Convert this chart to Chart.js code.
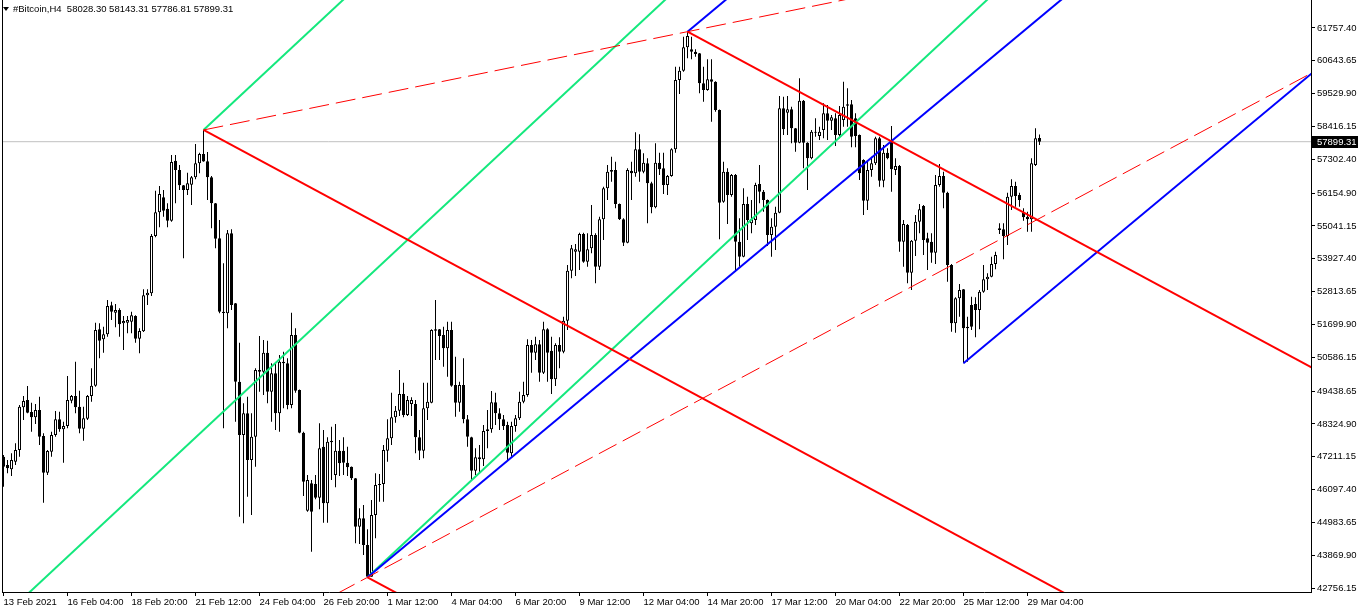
<!DOCTYPE html>
<html>
<head>
<meta charset="utf-8">
<script src="https://cdn.jsdelivr.net/npm/chart.js@4.4.1/dist/chart.umd.min.js"></script>
<style>
  html, body { margin: 0; padding: 0; background: #fff; }
  #wrap { width: 1362px; height: 612px; }
</style>
</head>
<body>
<div id="wrap"><canvas id="chart" width="1362" height="612"></canvas></div>
<script>
// #Bitcoin H4 candles, 13 Feb 2021 .. 29 Mar 2021
const symbolName = '#Bitcoin,H4';

const opens = [
  47213,46930,46783,47043,47439,48887,49136,48728,48547,48796,47914,46670,47383,47948,48480,48140,48253,49113,49271,48909,
  48163,48502,49271,49622,51533,51194,51364,52348,52099,52189,51737,51760,51793,51986,51217,51465,52687,52755,54700,55503,
  56012,55628,55220,57256,56939,56419,56261,56442,56691,57166,57482,57234,56691,55808,54621,52133,52076,54790,52415,49757,
  47947,48683,47099,47891,50153,50096,50741,49418,50040,48683,50436,50379,48965,51340,49474,48027,45380,46307,46285,45821,
  47552,45629,47699,46590,47416,47416,47009,46873,46477,44837,45120,44215,43141,45233,46251,46285,47416,47834,48547,48773,
  49339,48626,48999,48999,47868,47416,48852,49045,51487,51533,51340,50888,51510,49644,49045,49644,48479,47868,46737,47122,
  47122,48083,48140,49056,48683,48479,48287,47325,48253,48513,49078,49305,51001,50741,51024,50062,51533,50809,49836,51001,
  50775,51827,53523,54168,54168,54767,53829,54281,54733,53659,55265,56317,56882,56939,55785,55265,54473,56917,56826,57641,
  56882,57166,56487,55673,57188,56996,56431,56736,57641,59993,60310,61102,61034,60955,60898,59880,59654,60016,59937,58975,
  55865,56883,56091,56770,54508,53999,55786,55130,55243,56464,56204,55922,54734,55017,55492,59032,58885,58998,58353,57867,
  59292,57867,57335,58206,58093,58297,58862,58613,58693,58127,58636,59123,59168,58693,58127,57279,55899,56940,57166,58014,
  56578,57528,57901,56940,57075,54508,55074,53456,54542,55187,55718,54621,54508,54135,56431,56736,56171,53716,51737,52585,
  52891,51567,52359,52393,52189,52812,53230,53320,53750,54904,54927,54700,56035,56397,56091,55492,55356,55266,57109,58028.30
];
const highs = [
  47269,47100,47326,47665,48966,49271,49611,49045,49000,49249,48005,47439,48061,48762,48740,48400,49950,49305,50436,49452,
  48909,49305,50210,51760,51737,51624,52529,52472,52393,52246,51986,51986,52133,52008,51567,52891,52891,54768,56238,56397,
  56261,55808,57448,57448,57109,56431,56849,56736,57822,57528,58297,57550,56736,55820,55243,53772,54903,54926,52430,51080,
  49022,49248,48683,50209,51307,51171,51148,50379,50379,50662,50775,50549,52098,51567,49490,48061,46590,46421,46590,48343,
  48117,47868,48230,48321,47778,47868,47552,46880,46490,45459,45572,44747,45742,46647,46624,47608,48479,49384,48931,50153,
  49723,49271,49225,49135,48117,49723,49723,51533,52528,51545,51623,51793,51793,50605,49757,50549,48626,47891,47495,47608,
  48287,48796,49440,49384,48852,48626,48400,48400,48626,49418,49757,51193,51171,51284,51171,51793,51567,51284,51058,51261,
  51962,53716,54394,54428,54813,54813,54790,55751,54790,55355,56373,57109,57391,57222,55800,55299,56995,57222,58218,58154,
  57506,57336,56544,57844,57528,57528,56770,57675,60446,60446,61463,61633,61463,61034,60910,60446,60694,60694,59950,58990,
  57222,56996,56804,56804,55300,56317,56035,55922,56510,57109,56261,55935,55300,55695,59450,59428,59450,59088,58365,60050,
  59315,57880,58297,58693,58410,59201,59145,58806,58862,59111,59937,59711,59315,58862,58140,57302,57279,57392,58071,58071,
  57788,57675,58433,57336,57109,55243,55107,54565,55413,55786,55752,54813,54791,56770,57143,56883,56205,53750,52619,53072,
  52900,51963,52642,52619,52868,53716,53434,53999,54169,55130,55130,56171,56623,56544,56171,55639,55526,57336,58353,58143.31
];
const lows = [
  46195,46647,46557,46930,47213,48457,48683,48061,48321,47609,45652,46591,47213,47891,48061,47009,48174,49022,48683,48005,
  47756,48457,49079,49588,50549,50742,51284,51850,51601,51284,50832,51398,51398,51081,50719,51443,52359,52664,54655,54994,
  55356,54994,55186,55808,56261,53942,56091,55752,56623,56826,57222,55922,54960,54282,52076,48174,51567,52189,48400,45176,
  44950,45855,45233,46873,49418,49305,49022,48400,48117,48061,48852,48818,48852,49384,48004,45878,45346,43989,45765,45425,
  44973,44973,46421,46172,46556,46590,46556,46421,44272,44250,43876,43118,43135,44441,45685,45685,47043,47608,48366,48592,
  48547,48592,48592,47325,47099,47156,48456,49022,50492,50492,50266,49927,49587,48569,48739,48343,47552,46421,46590,46669,
  46896,47495,48027,48287,48117,48117,47099,47212,48061,48456,49022,49248,50062,50492,49757,50017,49757,49339,49610,50209,
  50718,51510,53263,53342,53546,53795,53659,54111,53093,53546,54564,55921,56543,55638,55242,54360,54451,55922,56713,56542,
  56826,55130,55469,55639,56770,56125,56091,56713,57528,59518,60276,60728,60694,60785,59541,59258,59631,58579,58919,54587,
  55831,55107,56035,53490,53660,53976,54564,54791,55073,55808,55526,54361,53999,54225,55469,58127,58127,57844,57562,57844,
  56996,56261,57301,58070,57957,58014,57957,58297,57754,58014,58410,58410,57709,57709,56600,55413,55582,56713,57109,56374,
  56352,57302,56205,56770,54169,53660,53094,52868,54022,54791,54056,53547,53796,53750,56374,55639,53151,51454,51420,51963,
  50380,50436,51511,51262,51534,52778,52868,53298,53569,54768,53909,54395,55582,55696,55696,55221,54847,54847,57075,57786.81
];
const closes = [
  46874,46817,47100,47439,48909,49102,48706,48547,48796,47891,46670,47405,47948,48480,48140,48253,49136,49271,48887,48163,
  48514,49271,49622,51511,51149,51364,52325,52133,52189,51703,51816,51850,52008,51217,51477,52687,52777,54700,55503,56125,
  55560,55220,57211,56939,56419,56261,56487,56691,57166,57482,57230,56691,55808,54610,52133,52090,54790,52358,49757,47947,
  48683,47099,47891,50153,50096,50741,49418,50040,48683,50436,50379,48965,51340,49452,48027,46364,46421,45346,45821,47495,
  45629,47721,47755,47416,46986,47009,46850,46477,44837,45120,44215,43141,45233,46251,46285,47438,47834,48547,48773,49339,
  48626,49135,49135,47868,47416,48852,49078,51510,51533,51307,50888,51510,49621,49045,49644,48479,47891,46737,47190,47190,
  48083,48140,49056,48683,48479,48253,47348,48253,48513,49078,49305,51001,50741,51024,50062,51533,50741,49836,51001,50775,
  51827,53523,54281,54247,54767,53829,54247,54733,53659,55265,56317,56882,56939,55785,55265,54473,56939,56826,57641,56882,
  57188,56487,55673,57188,56962,56431,56736,57641,59993,60310,61102,61486,60955,60875,59880,59654,60016,59937,58975,55831,
  56883,56091,56770,54508,53999,55786,55243,55266,56431,56204,55922,54734,55017,55492,59032,58319,58998,58353,57867,59292,
  57867,57335,58240,58240,58240,58862,58613,58726,58127,58806,59089,59168,58071,58093,56827,55899,56940,57166,58014,56578,
  57528,57336,56962,57075,54508,55107,53456,54542,55187,55605,54565,54474,54135,56431,56736,56171,53716,51737,52585,52868,
  51567,51624,51624,52189,52812,53230,53320,53750,54056,54960,54700,56035,56397,56058,55922,55334,55266,57166,58014,57899.31
];

// time axis labels every 16 bars
const dateTickBars = [0,16,32,48,64,80,96,112,128,144,160,176,192,208,224,240,256];
const dateTickLabels = ['13 Feb 2021','16 Feb 04:00','18 Feb 20:00','21 Feb 12:00','24 Feb 04:00','26 Feb 20:00',
  '1 Mar 12:00','4 Mar 04:00','6 Mar 20:00','9 Mar 12:00','12 Mar 04:00','14 Mar 20:00','17 Mar 12:00',
  '20 Mar 04:00','22 Mar 20:00','25 Mar 12:00','29 Mar 04:00'];

const priceTicks = [42756.15,43869.90,44983.65,46097.40,47211.15,48324.90,49438.65,50586.15,51699.90,
  52813.65,53927.40,55041.15,56154.90,57302.40,58416.15,59529.90,60643.65,61757.40];
const priceMin = 42620.8;
const priceMax = 62707.4;

// drawing objects: pivot bars (high, low, high, low) and slopes in price per bar
const pivotBars = [50, 91, 171, 240];
const pivotPrices = [highs[50], lows[91], highs[171], lows[240]];
const greenSlope = 126.5;
const blueSlope = 113;
const redSlope = -73;
const lowerDashSlope = 72.5;

const FONT = 'Liberation Sans';
Chart.defaults.font.family = FONT;
Chart.defaults.font.size = 9.5;
Chart.defaults.color = '#000';

const GREEN = 'rgb(20,232,125)';
const BLUE = 'rgb(0,0,255)';
const RED = 'rgb(255,0,0)';

function ray(k, slope, toBar) {
  const b = pivotBars[k], p = pivotPrices[k];
  return [{x: b, y: p}, {x: toBar, y: p + (toBar - b) * slope}];
}

function lineSet(label, pts, color, width, dash, order) {
  return {
    type: 'line', label: label, data: pts,
    borderColor: color, borderWidth: width, borderDash: dash || [],
    pointRadius: 0, fill: false, tension: 0, clip: 0, order: order
  };
}

const wickData = highs.map((h, i) => ({x: i, y: [lows[i], h]}));
const bodyData = opens.map((o, i) => ({x: i, y: [o, closes[i]]}));
const bodyColors = opens.map((o, i) => closes[i] >= o ? '#ffffff' : '#000000');

const lastIdx = closes.length - 1;
const lastClose = closes[lastIdx];

// midline of the green channel (between the two first pivots)
const midBar = (pivotBars[0] + pivotBars[1]) / 2;
const midPrice = (pivotPrices[0] + pivotPrices[1]) / 2;
const upperDashSlope = (pivotPrices[2] - pivotPrices[0]) / (pivotBars[2] - pivotBars[0]);

const datasets = [
  lineSet('bid', [{x: -5, y: lastClose}, {x: 340, y: lastClose}], 'rgb(192,192,192)', 1, null, 10),
  {
    type: 'bar', label: 'wicks', data: wickData,
    backgroundColor: '#000', borderWidth: 0, barThickness: 1,
    grouped: false, inflateAmount: 0, minBarLength: 1, order: 6
  },
  {
    type: 'bar', label: 'bodies', data: bodyData,
    backgroundColor: bodyColors, borderColor: '#000', borderWidth: 1, borderSkipped: false,
    barThickness: 3, grouped: false, inflateAmount: 0, minBarLength: 1, order: 5
  },
  // green channel
  lineSet('g1', ray(0, greenSlope, 400), GREEN, 2, null, 3),
  lineSet('g2', [{x: -100, y: midPrice + (-100 - midBar) * greenSlope}, {x: 400, y: midPrice + (400 - midBar) * greenSlope}], GREEN, 2, null, 3),
  lineSet('g3', ray(1, greenSlope, 400), GREEN, 2, null, 3),
  // blue channel
  lineSet('b1', ray(1, blueSlope, 400), BLUE, 2, null, 2),
  lineSet('b2', ray(2, blueSlope, 400), BLUE, 2, null, 2),
  lineSet('b3', ray(3, blueSlope, 400), BLUE, 2, null, 2),
  // red descending lines
  lineSet('r1', ray(0, redSlope, 400), RED, 2, null, 1),
  lineSet('r2', ray(2, redSlope, 400), RED, 2, null, 1),
  lineSet('r3', ray(1, redSlope, 400), RED, 2, null, 1),
  // dashed red
  lineSet('d1', ray(0, upperDashSlope, 400), RED, 1, [20, 7], 0),
  lineSet('d2', [{x: 0, y: pivotPrices[1] + (0 - pivotBars[1]) * lowerDashSlope}, {x: 400, y: pivotPrices[1] + (400 - pivotBars[1]) * lowerDashSlope}], RED, 1, [20, 7], 0)
];

const overlay = {
  id: 'overlay',
  afterDraw(chart) {
    const {ctx, chartArea: a, scales} = chart;
    ctx.save();
    ctx.strokeStyle = '#000';
    ctx.lineWidth = 1;
    ctx.beginPath();
    ctx.moveTo(a.left + 0.5, a.top);
    ctx.lineTo(a.left + 0.5, a.bottom);
    ctx.stroke();

    // header
    ctx.fillStyle = '#000';
    ctx.beginPath();
    ctx.moveTo(3, 7); ctx.lineTo(9, 7); ctx.lineTo(6, 11); ctx.closePath();
    ctx.fill();
    ctx.font = '9.5px "' + FONT + '"';
    ctx.textBaseline = 'alphabetic';
    ctx.textAlign = 'left';
    const hdr = symbolName + '  ' + opens[lastIdx].toFixed(2) + ' ' + highs[lastIdx].toFixed(2) + ' ' +
      lows[lastIdx].toFixed(2) + ' ' + lastClose.toFixed(2);
    ctx.fillText(hdr, 13, 12);

    // current price tag on the axis
    const py = Math.round(scales.y.getPixelForValue(lastClose));
    ctx.fillStyle = '#000';
    ctx.fillRect(a.right + 1, py - 6, 46, 12);
    ctx.fillStyle = '#fff';
    ctx.textBaseline = 'middle';
    ctx.fillText(lastClose.toFixed(2), a.right + 6, py + 0.5);
    ctx.restore();
  }
};

new Chart(document.getElementById('chart').getContext('2d'), {
  type: 'bar',
  data: { datasets: datasets },
  options: {
    responsive: false,
    animation: false,
    devicePixelRatio: 1,
    events: [],
    layout: { padding: { left: 2, top: 0, right: 0, bottom: 0 } },
    plugins: { legend: { display: false }, tooltip: { enabled: false } },
    scales: {
      x: {
        type: 'linear', min: -0.375, max: 326.875, offset: false, bounds: 'data',
        grid: { drawOnChartArea: false, drawTicks: true, tickLength: 4, color: '#000', offset: false },
        border: { display: true, color: '#000', width: 1 },
        ticks: {
          autoSkip: false, maxRotation: 0, minRotation: 0, align: 'start', padding: 1,
          color: '#000', font: { family: FONT, size: 9.5 },
          callback: (v, i) => dateTickLabels[i]
        },
        afterBuildTicks: s => { s.ticks = dateTickBars.map(v => ({value: v})); },
        afterFit: s => { s.height = 20; s.paddingLeft = 0; s.paddingRight = 0; }
      },
      y: {
        type: 'linear', position: 'right', min: priceMin, max: priceMax, bounds: 'data',
        grid: { drawOnChartArea: false, drawTicks: true, tickLength: 4, color: '#000' },
        border: { display: true, color: '#000', width: 1 },
        ticks: {
          autoSkip: false, padding: 2, color: '#000', font: { family: FONT, size: 9.5 },
          callback: v => Number(v).toFixed(2)
        },
        afterBuildTicks: s => { s.ticks = priceTicks.map(v => ({value: v})); },
        afterFit: s => { s.width = 51; s.paddingTop = 0; s.paddingBottom = 0; }
      }
    }
  },
  plugins: [overlay]
});
</script>
</body>
</html>
